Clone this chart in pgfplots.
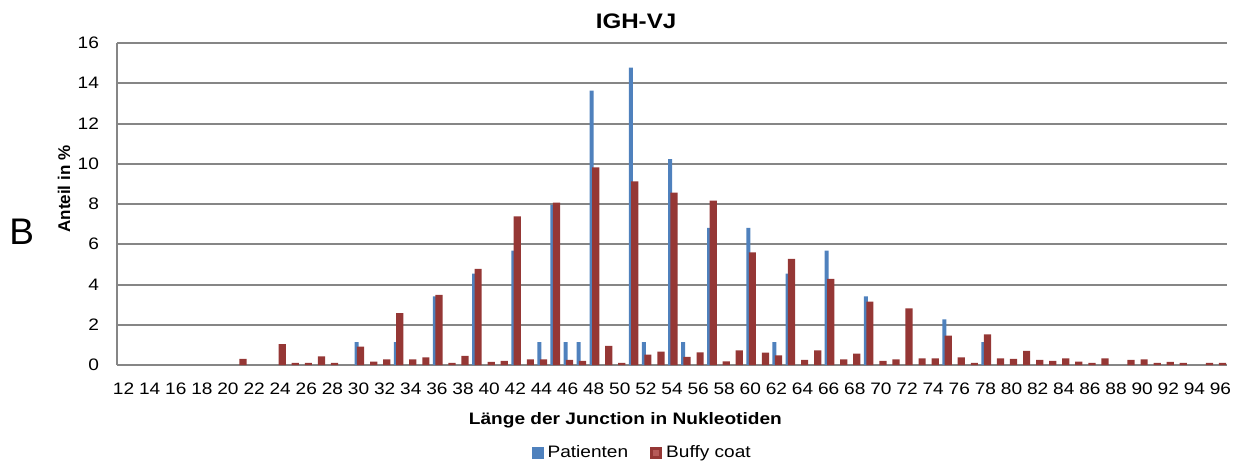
\documentclass[border=0pt]{standalone}
\usepackage{pgfplots}
\pgfplotsset{compat=1.18}
\usepackage{fontspec}
\setmainfont{Liberation Sans}[FakeStretch=1.15]
\newfontfamily\plainfont{Liberation Sans}
\definecolor{pblue}{HTML}{4F81BD}
\definecolor{bred}{HTML}{953735}
\definecolor{bredlight}{HTML}{B65A58}
\definecolor{gridgray}{HTML}{868686}
\begin{document}
\begin{tikzpicture}
\begin{axis}[
  scale only axis, width=555pt, height=161pt,
  xmin=11.5, xmax=96.5, ymin=0, ymax=16,
  ytick={0,2,...,16}, xtick={12,14,...,96},
  axis x line=bottom, axis y line=left,
  x axis line style={-, gridgray, line width=1pt},
  y axis line style={-, gridgray, line width=1pt},
  ymajorgrids, grid style={gridgray, line width=1pt},
  major tick length=0pt,
  /pgf/number format/assume math mode=true,
  tick label style={font=\fontsize{8.3}{10}\selectfont, text=black},
  xticklabel style={yshift=-5.5pt},
  yticklabel style={xshift=-5.5pt},
  clip=false,
  legend style={draw=none, fill=none, at={(0.474,-0.272)}, anchor=center,
    legend columns=2, font=\fontsize{8.3}{10}\selectfont,
    /tikz/every even column/.append style={column sep=9pt}},
]
\addplot[ybar, bar width=2pt, bar shift=-1pt, fill=pblue, draw=none,
  legend image code/.code={\fill[pblue] (0pt,-3pt) rectangle (6pt,3pt);}]
 coordinates {
 (30,1.136) (33,1.136) (36,3.409) (39,4.545) (42,5.682) (44,1.136)
 (45,7.955) (46,1.136) (47,1.136) (48,13.636) (51,14.773) (52,1.136)
 (54,10.227) (55,1.136) (57,6.818) (60,6.818) (62,1.136) (63,4.545)
 (66,5.682) (69,3.409) (75,2.273) (78,1.136)
 };
\addlegendentry{Patienten}
\addplot[ybar, bar width=3.6pt, bar shift=1pt, fill=bred, draw=none,
  legend image code/.code={\fill[bred] (0pt,-3pt) rectangle (6pt,3pt);
     \fill[bredlight] (1.5pt,-1.5pt) rectangle (4.5pt,1.5pt);}]
 coordinates {
 (21,0.30) (24,1.04) (25,0.10) (26,0.10) (27,0.43) (28,0.10)
 (30,0.91) (31,0.17) (32,0.28) (33,2.58) (34,0.28) (35,0.38)
 (36,3.48) (37,0.10) (38,0.45) (39,4.78) (40,0.15) (41,0.20)
 (42,7.38) (43,0.28) (44,0.28) (45,8.07) (46,0.25) (47,0.20)
 (48,9.82) (49,0.95) (50,0.10) (51,9.12) (52,0.51) (53,0.66)
 (54,8.56) (55,0.41) (56,0.63) (57,8.17) (58,0.18) (59,0.73)
 (60,5.60) (61,0.61) (62,0.48) (63,5.27) (64,0.25) (65,0.73)
 (66,4.28) (67,0.28) (68,0.56) (69,3.15) (70,0.20) (71,0.28)
 (72,2.82) (73,0.33) (74,0.33) (75,1.46) (76,0.38) (77,0.10)
 (78,1.52) (79,0.33) (80,0.30) (81,0.70) (82,0.25) (83,0.20)
 (84,0.33) (85,0.17) (86,0.10) (87,0.33) (89,0.25) (90,0.28)
 (91,0.10) (92,0.15) (93,0.10) (95,0.10) (96,0.10)
 };
\addlegendentry{Buffy coat}
\node[anchor=base, font=\bfseries\fontsize{10.5}{12}\selectfont] at (rel axis cs:0.4676,1.0457) {IGH-VJ};
\node[anchor=base, font=\bfseries\fontsize{8.3}{10}\selectfont] at (rel axis cs:0.458,-0.1863) {Länge der Junction in Nukleotiden};
\node[anchor=base, rotate=90, font=\plainfont\bfseries\fontsize{8.5}{10}\selectfont] at (rel axis cs:-0.0423,0.546) {Anteil in \%};
\node[anchor=base, font=\plainfont\fontsize{18.5}{20}\selectfont] at (rel axis cs:-0.0859,0.3727) {B};
\end{axis}
\pgfresetboundingbox
\path[use as bounding box] ([xshift=-58.5pt,yshift=-50.5pt]current axis.south west) rectangle ([xshift=8.5pt,yshift=21.5pt]current axis.north east);
\end{tikzpicture}
\end{document}
